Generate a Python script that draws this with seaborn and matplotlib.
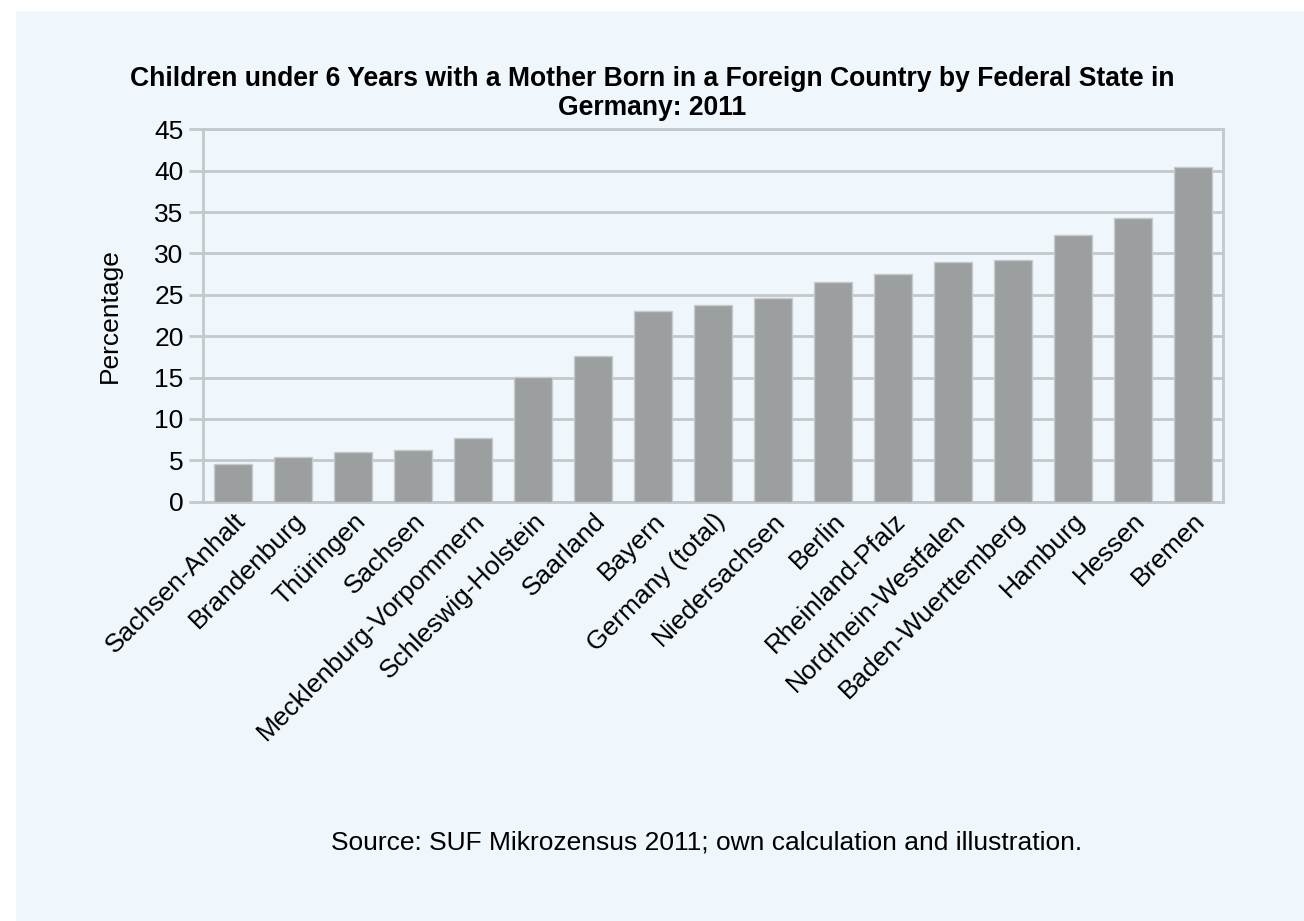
import matplotlib
matplotlib.use("Agg")
import matplotlib.pyplot as plt
import seaborn as sns
import pandas as pd
from matplotlib.patches import Rectangle

states = ["Sachsen-Anhalt", "Brandenburg", "Thüringen", "Sachsen",
          "Mecklenburg-Vorpommern", "Schleswig-Holstein", "Saarland", "Bayern",
          "Germany (total)", "Niedersachsen", "Berlin", "Rheinland-Pfalz",
          "Nordrhein-Westfalen", "Baden-Wuerttemberg", "Hamburg", "Hessen", "Bremen"]
percentages = [4.6, 5.4, 6.0, 6.3, 7.7, 15.1, 17.6, 23.1, 23.8, 24.6, 26.6,
               27.5, 29.0, 29.2, 32.2, 34.3, 40.4]
yticks = [0, 5, 10, 15, 20, 25, 30, 35, 40, 45]

title = "Children under 6 Years with a Mother Born in a Foreign Country by Federal State in\nGermany: 2011"
source = "Source: SUF Mikrozensus 2011; own calculation and illustration."

df = pd.DataFrame({"state": states, "pct": percentages})

sns.set_theme(style="white")
plt.rcParams["font.family"] = ["Liberation Sans", "DejaVu Sans"]
plt.rcParams["text.color"] = "black"
plt.rcParams["axes.labelcolor"] = "black"
plt.rcParams["xtick.color"] = "black"
plt.rcParams["ytick.color"] = "black"

BG = "#eff7fd"
GRID = "#c3c8ca"
BAR = "#9b9fa0"
FS = 19

fig = plt.figure(figsize=(13.04, 9.21), dpi=100)
fig.patch.set_facecolor("white")
fig.patches.append(Rectangle((16 / 1304, 0), 1 - 16 / 1304, 1 - 11 / 921,
                             transform=fig.transFigure, facecolor=BG,
                             edgecolor="none", zorder=-10))

ax = fig.add_axes([203 / 1304, 1 - 501.7 / 921, 1020 / 1304, (501.7 - 129.3) / 921])
ax.set_facecolor(BG)

sns.barplot(data=df, x="state", y="pct", color=BAR, width=0.63, ax=ax,
            edgecolor="#c6cacc", linewidth=1.0, saturation=1, zorder=3)

ax.set_xlim(-0.5, len(states) - 0.5)
ax.set_ylim(0, 45)
ax.set_yticks(yticks)
ax.yaxis.grid(True, color=GRID, linewidth=2, zorder=0)
ax.set_axisbelow(True)
for s in ax.spines.values():
    s.set_color(GRID)
    s.set_linewidth(2)
    s.set_visible(True)

ax.tick_params(axis="y", length=10, width=2, color=GRID, labelsize=FS, pad=4,
               left=True, labelcolor="black")
ax.tick_params(axis="x", length=0, labelsize=FS, pad=5, labelcolor="black")
ax.set_xticks(range(len(states)))
ax.set_xticklabels(states, rotation=45, ha="right", rotation_mode="anchor")

ax.set_xlabel("")
ax.set_ylabel("Percentage", fontsize=FS, labelpad=23, color="black")

fig.text(0.5, 1 - 93.5 / 921, title, ha="center", va="center", fontsize=19.1,
         fontweight="bold", linespacing=1.12, color="black")
fig.text(707 / 1304, 1 - 842 / 921, source, ha="center", va="center",
         fontsize=FS, color="black")

fig.savefig("out.png", dpi=100, facecolor=fig.get_facecolor())
